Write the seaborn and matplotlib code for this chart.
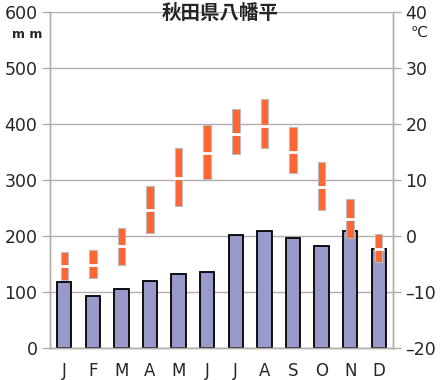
import matplotlib
matplotlib.use("Agg")
import matplotlib.pyplot as plt
import numpy as np
import pandas as pd
import seaborn as sns

months = ["J", "F", "M", "A", "M", "J", "J", "A", "S", "O", "N", "D"]
precip_mm = [118, 93, 105, 120, 132, 136, 202, 209, 196, 182, 209, 177]
temp_max = [-2.9, -2.5, 1.4, 8.9, 15.7, 19.9, 22.7, 24.4, 19.4, 13.3, 6.6, 0.4]
temp_min = [-7.9, -7.5, -5.1, 0.6, 5.3, 10.2, 14.6, 15.8, 11.2, 4.7, -0.3, -4.7]
temp_mean = [-5.4, -5.1, -1.8, 4.6, 10.4, 14.9, 18.3, 19.7, 15.0, 8.7, 3.0, -2.3]

sns.set_style("white")
plt.rcParams["font.family"] = ["DejaVu Sans", "Noto Sans CJK JP"]

grid_color = "#B5ADAD"
df = pd.DataFrame({"month_no": range(1, 13), "precip": precip_mm})

fig = plt.figure(figsize=(4.4, 3.8), dpi=100)
ax = fig.add_axes([50 / 440, 1 - 348 / 380, 343 / 440, 336 / 380])

sns.barplot(
    data=df, x="month_no", y="precip", color="#9999CC", saturation=1,
    edgecolor="black", linewidth=1.3, width=0.5, ax=ax, zorder=2,
)
ax.set_xlim(-0.5, 11.5)
ax.set_ylim(0, 600)
ax.set_yticks(np.arange(0, 601, 100))
ax.yaxis.grid(True, color=grid_color, linewidth=1)
ax.set_axisbelow(True)
ax.set_xlabel("")
ax.set_ylabel("")
ax.set_xticks(range(12))
ax.set_xticklabels(months)
ax.set_xticks(np.arange(-0.5, 12, 1), minor=True)
ax.tick_params(axis="x", which="major", length=0, pad=10, labelsize=12)
ax.tick_params(axis="x", which="minor", length=5, color=grid_color, width=1)
ax.tick_params(axis="y", length=6, color=grid_color, width=1, pad=3, labelsize=12.5)
for side, spine in ax.spines.items():
    spine.set_color(grid_color)
    spine.set_linewidth(1)
ax.spines["top"].set_visible(False)

ax2 = ax.twinx()
pos = np.arange(12)
lo = np.array(temp_min)
hi = np.array(temp_max)
ax2.bar(pos, hi - lo, bottom=lo, width=0.26, color="#FF6633",
        edgecolor="#BBBBBB", linewidth=0.8, zorder=3)
ax2.hlines(temp_mean, pos - 0.17, pos + 0.17, colors="white", linewidth=2, zorder=4)
ax2.set_ylim(-20, 40)
ax2.set_yticks(np.arange(-20, 41, 10))
ax2.set_yticklabels([f"{v}".replace("-", "\u2013") for v in range(-20, 41, 10)])
ax2.tick_params(axis="y", length=6, color=grid_color, width=1, pad=3, labelsize=12.5)
for side, spine in ax2.spines.items():
    spine.set_color(grid_color)
    spine.set_linewidth(1)
ax2.spines["top"].set_visible(False)

fig.text(0.5, 1 - 13 / 380, "秋田県八幡平", ha="center", va="center",
         fontsize=14, fontweight="bold", family=["Noto Sans CJK JP", "DejaVu Sans"])
fig.text(27 / 440, 1 - 34 / 380, "m m", ha="center", va="center", fontsize=9, fontweight="bold")
fig.text(419 / 440, 1 - 32 / 380, "℃", ha="center", va="center", fontsize=11)

fig.savefig("out.png", dpi=100)
